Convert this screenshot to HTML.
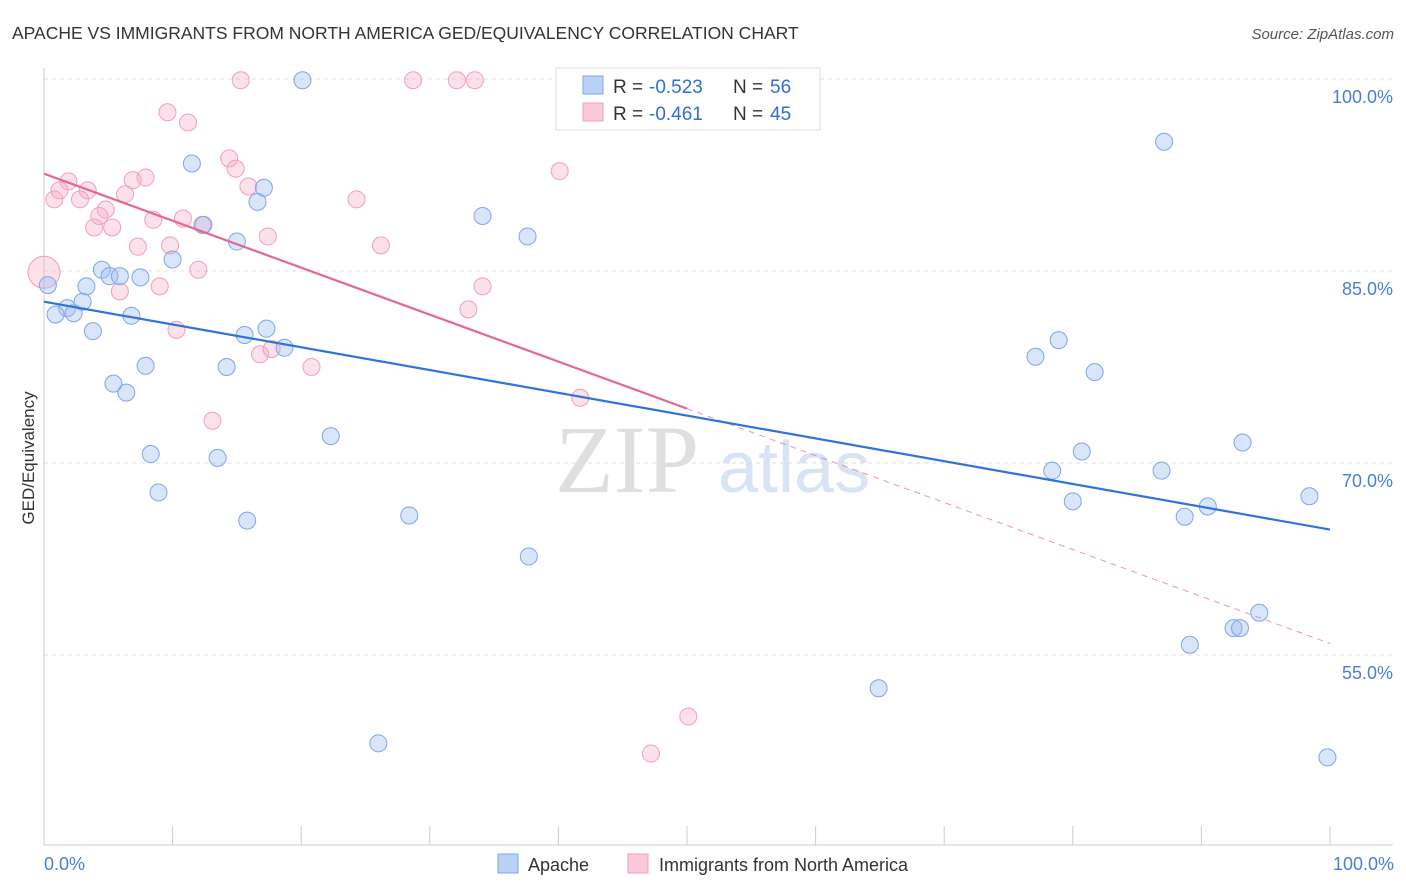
<!DOCTYPE html>
<html><head><meta charset="utf-8"><style>
body{margin:0;background:#fff;font-family:"Liberation Sans",sans-serif;}
svg{display:block}
</style></head><body>
<svg id="chart" width="1406" height="892" xmlns="http://www.w3.org/2000/svg" font-family="Liberation Sans, sans-serif">
<text x="12" y="39" font-size="17.5" fill="#333">APACHE VS IMMIGRANTS FROM NORTH AMERICA GED/EQUIVALENCY CORRELATION CHART</text>
<text x="1394" y="39" font-size="15" fill="#555" text-anchor="end" font-style="italic">Source: ZipAtlas.com</text>
<g>
<text x="555" y="492" font-size="96" fill="#d8d8d8" font-family="Liberation Serif, serif" opacity="0.8">ZIP</text>
<text x="718" y="492" font-size="72" fill="#c8d8f0" opacity="0.7">atlas</text>
</g>
<g id="grid"></g>
<g id="axes"></g>
<g id="pinkpts"></g>
<g id="bluepts"></g>
<g id="lines"></g>
<text transform="translate(34,458) rotate(-90)" font-size="17" fill="#333" text-anchor="middle">GED/Equivalency</text>
<text x="44" y="870" font-size="18" fill="#4a7fd6">0.0%</text>
<text x="1394" y="870" font-size="18" fill="#4a7fd6" text-anchor="end">100.0%</text>
<g font-size="19">
<rect x="556" y="68" width="264" height="62" fill="#fff" stroke="#ddd"/>
<rect x="583" y="76" width="20" height="18" fill="#b9d1f5" stroke="#7fa6e6"/>
<rect x="583" y="103" width="20" height="18" fill="#fbc9d8" stroke="#f0a0bb"/>
<text x="613" y="93" fill="#333">R =</text><text x="649" y="93" fill="#2f6fd6">-0.523</text>
<text x="733" y="93" fill="#333">N =</text><text x="770" y="93" fill="#2f6fd6">56</text>
<text x="613" y="120" fill="#333">R =</text><text x="649" y="120" fill="#2f6fd6">-0.461</text>
<text x="733" y="120" fill="#333">N =</text><text x="770" y="120" fill="#2f6fd6">45</text>
</g>
<g>
<rect x="498" y="854" width="20" height="19" fill="#b9d1f5" stroke="#7fa6e6"/>
<text x="528" y="871" font-size="18" fill="#333">Apache</text>
<rect x="628" y="854" width="20" height="19" fill="#fbc9d8" stroke="#f0a0bb"/>
<text x="659" y="871" font-size="18" fill="#333">Immigrants from North America</text>
</g>
</svg>
<script>
const yTicks=[100,85,70,55];
const yTickLabels=["100.0%","85.0%","70.0%","55.0%"];
const xTicks=[0,10,20,30,40,50,60,70,80,90,100];
const blueX=[20.1,87.1,11.5,17.1,16.6,34.1,12.4,37.6,15.0,10.0,4.5,5.1,5.9,7.5,3.3,0.3,3.0,1.8,0.9,2.3,6.8,3.8,17.3,15.6,18.7,77.1,78.9,7.9,14.2,81.7,5.4,6.4,22.3,93.2,8.3,13.5,80.7,78.4,86.9,8.9,98.4,80.0,90.5,28.4,88.7,15.8,37.7,94.5,92.5,93.0,89.1,64.9,26.0,99.8];
const blueY=[99.9,95.1,93.4,91.5,90.4,89.3,88.6,87.7,87.3,85.9,85.1,84.6,84.6,84.5,83.8,83.9,82.6,82.1,81.6,81.7,81.5,80.3,80.5,80.0,79.0,78.3,79.6,77.6,77.5,77.1,76.2,75.5,72.1,71.6,70.7,70.4,70.9,69.4,69.4,67.7,67.4,67.0,66.6,65.9,65.8,65.5,62.7,58.3,57.1,57.1,55.8,52.4,48.1,47.0];
const pinkX=[15.3,28.7,32.1,33.5,9.6,11.2,14.4,14.9,40.1,7.9,1.9,6.9,15.9,1.2,3.4,0.8,2.8,6.3,24.3,4.8,4.3,8.5,10.8,12.3,3.9,5.3,17.4,7.3,9.8,26.2,0.0,12.0,9.0,5.9,34.1,33.0,10.3,16.8,17.7,20.8,41.7,13.1,50.1,47.2];
const pinkY=[99.9,99.9,99.9,99.9,97.4,96.6,93.8,93.0,92.8,92.3,92.0,92.1,91.6,91.3,91.3,90.6,90.6,91.0,90.6,89.8,89.3,89.0,89.1,88.6,88.4,88.4,87.7,86.9,87.0,87.0,84.9,85.1,83.8,83.4,83.8,82.0,80.4,78.5,78.9,77.5,75.1,73.3,50.2,47.3];
const blueTrend=[82.6,64.8];
const pinkTrend=[92.6,55.9];
const pinkSolidEnd=50;
const NS="http://www.w3.org/2000/svg";
const sx=v=>44+v*12.86, sy=v=>79+(100-v)*12.8;
function mk(tag,attrs,parent){const e=document.createElementNS(NS,tag);for(const k in attrs)e.setAttribute(k,attrs[k]);parent.appendChild(e);return e;}
const grid=document.getElementById('grid'),axes=document.getElementById('axes');
yTicks.forEach((t,i)=>{
 const l=mk('line',{x1:44,x2:1393,y1:sy(t),y2:sy(t),stroke:'#ddd','stroke-dasharray':'4,4'},grid);
 
 
 const tx=mk('text',{x:1393,y:sy(t)+24,'font-size':18,fill:'#4a7fd6','text-anchor':'end'},grid);
 tx.textContent=yTickLabels[i];
 
 
});
const ax=mk('line',{x1:44,x2:1393,y1:845,y2:845,stroke:'#ccc'},axes);


const ay=mk('line',{x1:44,x2:44,y1:68,y2:845,stroke:'#ccc'},axes);


xTicks.forEach(t=>{
 const l=mk('line',{x1:sx(t),x2:sx(t),y1:826,y2:845,stroke:'#ccc'},axes);
 
 
});
const bp=document.getElementById('bluepts'),pp=document.getElementById('pinkpts');
pinkX.forEach((x,i)=>{
 const c=mk('circle',{cx:sx(x),cy:sy(pinkY[i]),r:x===0?16:8.5,fill:'rgba(245,170,195,0.35)',stroke:'#f0a0bb','stroke-width':1},pp);
 
 
});
blueX.forEach((x,i)=>{
 const c=mk('circle',{cx:sx(x),cy:sy(blueY[i]),r:8.5,fill:'rgba(160,190,240,0.4)',stroke:'#7fa6e6','stroke-width':1},bp);
 
 
});
const lg=document.getElementById('lines');
const pAt=v=>pinkTrend[0]+(pinkTrend[1]-pinkTrend[0])*v/100;
const pd=mk('line',{x1:sx(pinkSolidEnd),y1:sy(pAt(pinkSolidEnd)),x2:sx(100),y2:sy(pinkTrend[1]),stroke:'#e46896','stroke-width':1,'stroke-dasharray':'6,5',opacity:0.7},lg);


const ps=mk('line',{x1:sx(0),y1:sy(pinkTrend[0]),x2:sx(pinkSolidEnd),y2:sy(pAt(pinkSolidEnd)),stroke:'#e46896','stroke-width':2.2},lg);


const bl=mk('line',{x1:sx(0),y1:sy(blueTrend[0]),x2:sx(100),y2:sy(blueTrend[1]),stroke:'#2f74d8','stroke-width':2.2},lg);


</script>
</body></html>
